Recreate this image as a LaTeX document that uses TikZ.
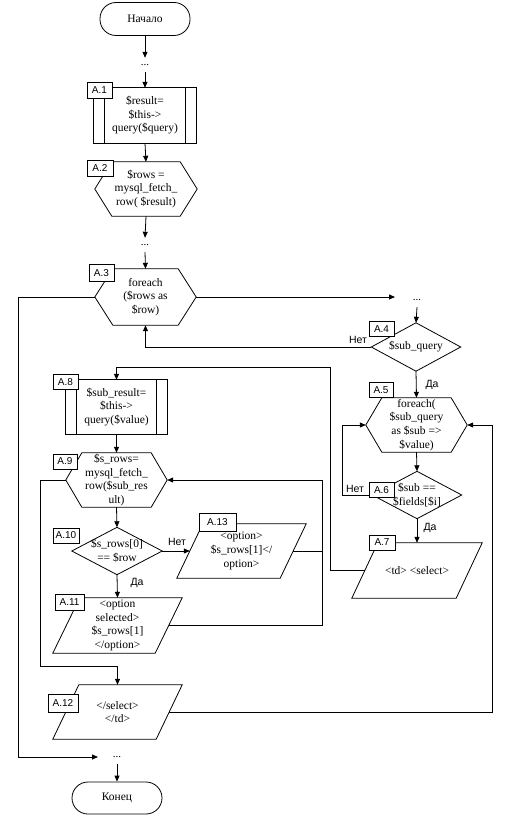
\documentclass[tikz,border=0pt]{standalone}
\usepackage{fontspec}
\setmainfont{Liberation Serif}
\newfontfamily\labfont{Liberation Sans}
\usetikzlibrary{arrows.meta,calc}
\newcommand\hexout[2]{\draw[ln] ([xshift=#2]#1.north west) -- ([xshift=-#2]#1.north east) -- (#1.east) -- ([xshift=-#2]#1.south east) -- ([xshift=#2]#1.south west) -- (#1.west) -- cycle;}
\newcommand\parout[2]{\draw[ln] ([xshift=#2]#1.north west) -- (#1.north east) -- ([xshift=-#2]#1.south east) -- (#1.south west) -- cycle;}
\newcommand\diaout[1]{\draw[ln] (#1.north) -- (#1.east) -- (#1.south) -- (#1.west) -- cycle;}
\newcommand\procout[2]{\draw[ln] (#1.north west) rectangle (#1.south east);
  \draw[ln] ([xshift=#2]#1.north west) -- ([xshift=#2]#1.south west);
  \draw[ln] ([xshift=-#2]#1.north east) -- ([xshift=-#2]#1.south east);}
\begin{document}
\begin{tikzpicture}[x=1pt,y=-1pt,
  ln/.style={line width=0.8pt},
  arr/.style={ln,-{Triangle[length=6pt,width=5pt]}},
  blk/.style={inner sep=0pt,align=center,font=\fontsize{11.5}{13.7}\selectfont},
  term/.style={blk,draw,line width=0.8pt,rounded corners=16pt},
  lab/.style={draw,fill=white,line width=0.8pt,inner sep=0pt,font=\labfont\fontsize{10}{12}\selectfont},
  yn/.style={inner sep=0pt,font=\labfont\fontsize{10.5}{12}\selectfont},
  dotsn/.style={inner sep=0pt,minimum height=14pt,font=\fontsize{11}{13}\selectfont}]
\useasboundingbox[fill=white] (0,0) rectangle (505,821);

% blocks
\node[term,minimum width=90pt,minimum height=33pt] (start) at (145,19) {Начало};
\node[dotsn] (d1) at (145,65) {...};
\node[blk,minimum width=102pt,minimum height=55pt] (a1) at (145,115.5)
  {\raisebox{5pt}{\begin{tabular}{@{}c@{}}\$result=\\\$this->\\query(\$query)\end{tabular}}};
\node[blk,minimum width=102pt,minimum height=54pt] (a2) at (146,189) {\$rows =\\mysql\_fetch\_\\row( \$result)};
\node[dotsn] (d2) at (145,245) {...};
\node[blk,minimum width=101pt,minimum height=56pt] (a3) at (145.5,297) {foreach\\(\$rows as\\\$row)};
\node[dotsn] (d3) at (417,300) {...};
\node[blk,minimum width=89pt,minimum height=48pt] (a4) at (416,347) {\$sub\_query};
\node[blk,minimum width=101pt,minimum height=54pt] (a5) at (416.5,425) {foreach(\\\$sub\_query\\as \$sub =>\\\$value)};
\node[blk,minimum width=89pt,minimum height=47pt] (a6) at (417,495) {\$sub ==\\\$fields[\$i]};
\node[blk,minimum width=130pt,minimum height=55pt] (a7) at (417,570.5) {<td> <select>};
\node[blk,minimum width=101pt,minimum height=54pt] (a8) at (116.5,407) {\$sub\_result=\\\$this->\\query(\$value)};
\node[blk,minimum width=101pt,minimum height=54pt] (a9) at (116.5,480) {\$s\_rows=\\mysql\_fetch\_\\row(\$sub\_res\\ult)};
\node[blk,minimum width=90pt,minimum height=47pt] (a10) at (117,551) {\$s\_rows[0]\\== \$row};
\node[blk,minimum width=129pt,minimum height=54pt] (a13) at (241.5,551) {<option>\\\$s\_rows[1]</\\option>};
\node[blk,minimum width=129pt,minimum height=55pt] (a11) at (117.5,625.5) {<option\\selected>\\\$s\_rows[1]\\</option>};
\node[blk,minimum width=129pt,minimum height=54pt] (a12) at (117.5,712) {</select>\\</td>};
\node[dotsn] (d4) at (117,757) {...};
\node[term,minimum width=90pt,minimum height=32pt] (end) at (117,798) {Конец};

% outlines
\procout{a1}{11pt}
\hexout{a2}{17pt}
\hexout{a3}{18pt}
\diaout{a4}
\hexout{a5}{16pt}
\diaout{a6}
\parout{a7}{26pt}
\procout{a8}{11pt}
\hexout{a9}{16pt}
\diaout{a10}
\parout{a13}{26pt}
\parout{a11}{27pt}
\parout{a12}{26pt}

% helper corner points
\coordinate (k7) at (330,367);
\coordinate (k5) at (492,425);
\coordinate (k9) at (40,666);
\coordinate (k10) at (322,480);
\coordinate (k3) at (18,757);

% connectors
\draw[arr] (start.south) -- (d1.north);
\draw[arr] (d1.south) -- (a1.north);
\draw[arr] (a1.south) -- (a2.north);
\draw[arr] (a2.south) -- (d2.north);
\draw[arr] (d2.south) -- (a3.north);
\draw[arr] (a3.east) -- ([xshift=-22pt]d3.center |- a3.east);
\draw[arr] (d3.south) -- (a4.north);
\draw[arr] (a4.west) -| (a3.south);
\draw[arr] (a4.south) -- (a5.north);
\draw[arr] (a5.south) -- (a6.north);
\draw[arr] (a6.west) -- ++(-30pt,0pt) |- (a5.west);
\draw[arr] (a6.south) -- (a7.north);
\draw[arr] ([xshift=13pt]a7.west) -- (k7 |- a7.west) -- (k7) -| (a8.north);
\draw[arr] ([xshift=-13pt]a12.east) -| (k5) -- (a5.east);
\draw[arr] (a8.south) -- (a9.north);
\draw[arr] (a9.west) -| (k9) -| (a12.north);
\draw[arr] (a9.south) -- (a10.north);
\draw[arr] (a10.east) -- ([xshift=13pt]a13.west);
\draw[arr] (a10.south) -- (a11.north);
\draw[ln] ([xshift=-13pt]a13.east) -- (k10 |- a13.east);
\draw[ln] ([xshift=-13.5pt]a11.east) -- (k10 |- a11.east) -- (k10);
\draw[arr] (k10) -- (a9.east);
\draw[arr] (a3.west) -| (k3) -- ([xshift=-19pt]d4.center |- k3);
\draw[arr] (d4.south) -- (end.north);

% yes/no
\node[yn] (n4) at (358,340) {Нет};
\node[yn] (y4) at (432,385) {Да};
\node[yn] (n6) at (355,489) {Нет};
\node[yn] (y6) at (430,528) {Да};
\node[yn] (n10) at (177,542) {Нет};
\node[yn] (y10) at (137,583) {Да};

% labels
\node[lab,minimum width=25pt,minimum height=16pt] (l1) at (99.5,90) {A.1};
\node[lab,minimum width=26pt,minimum height=16pt] (l2) at (100,168) {A.2};
\node[lab,minimum width=25pt,minimum height=17pt] (l3) at (101.5,273) {A.3};
\node[lab,minimum width=25pt,minimum height=15pt] (l4) at (381.5,329) {A.4};
\node[lab,minimum width=24pt,minimum height=15pt] (l5) at (381,390) {A.5};
\node[lab,minimum width=25pt,minimum height=15pt] (l6) at (381.5,490) {A.6};
\node[lab,minimum width=26pt,minimum height=15pt] (l7) at (382,542.5) {A.7};
\node[lab,minimum width=25pt,minimum height=15pt] (l8) at (65.5,382) {A.8};
\node[lab,minimum width=24pt,minimum height=15pt] (l9) at (65,461.5) {A.9};
\node[lab,minimum width=26pt,minimum height=15pt] (l10) at (66,535.5) {A.10};
\node[lab,minimum width=29pt,minimum height=16pt] (l11) at (69.5,602.5) {A.11};
\node[lab,minimum width=30pt,minimum height=18pt] (l12) at (63,703) {A.12};
\node[lab,minimum width=37pt,minimum height=18pt] (l13) at (217.5,522) {A.13};
\end{tikzpicture}
\end{document}
